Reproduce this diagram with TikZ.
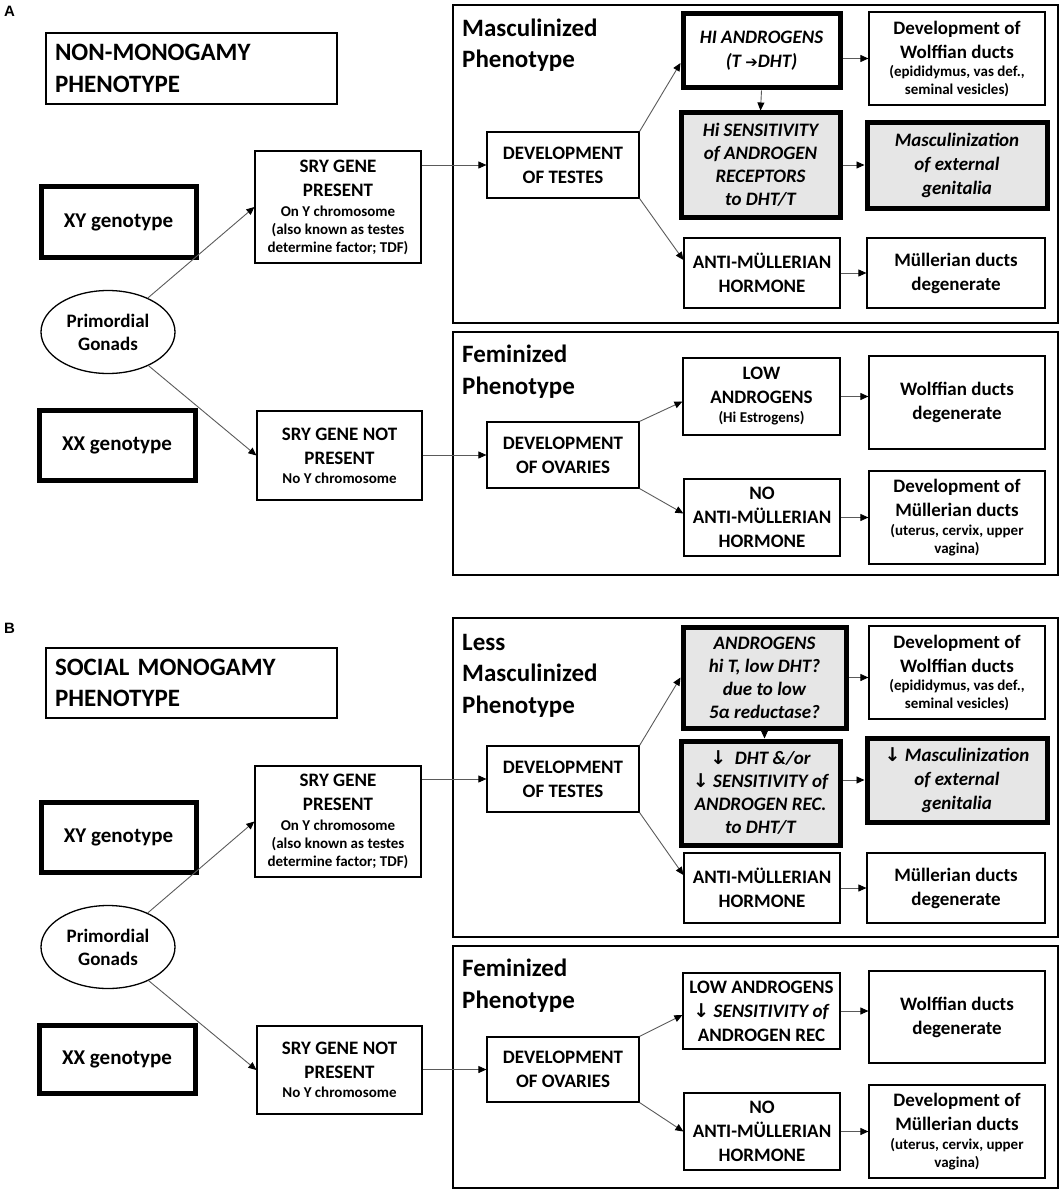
\documentclass[tikz,border=0pt]{standalone}
\usepackage{fontspec}
\setmainfont{Carlito}
\newfontfamily\symf{DejaVu Sans}
\newfontfamily\labf{Liberation Sans}
\usetikzlibrary{arrows.meta,shapes.geometric,calc}
\definecolor{boxgray}{HTML}{E6E6E6}
\definecolor{linegray}{HTML}{5A5A5A}
\newcommand\mainsz{\fontsize{19}{24}\selectfont}
\newcommand\smsz{\fontsize{15}{18}\selectfont}
\newcommand\hdrsz{\fontsize{25}{31.5}\selectfont}
\newcommand\dn{{\symf\upshape ↓}}
\newcommand\BX[7]{\node[#2,minimum width={#5pt-#3pt},minimum height={#6pt-#4pt}] (#1) at ({(#3+#5)/2},{(#4+#6)/2}) {#7};}
\tikzset{
 bx/.style={draw,line width=1.2pt,inner sep=0pt,align=center,font=\bfseries\mainsz},
 thk/.style={bx,line width=5pt},
 gbx/.style={thk,fill=boxgray},
 itx/.style={font=\bfseries\itshape\mainsz},
 panel/.style={draw,line width=2pt,inner sep=0pt},
 ttl/.style={anchor=base west,align=left,inner sep=0pt,font=\bfseries\hdrsz},
 hdr/.style={draw,line width=1.2pt,align=left,text width=273pt,inner xsep=9pt,inner ysep=0pt,font=\bfseries\hdrsz},
 ell/.style={draw,ellipse,line width=1.3pt,minimum width=134pt,minimum height=83pt,inner sep=0pt,align=center,font=\bfseries\mainsz},
 arr/.style={draw=linegray,line width=0.9pt,-{Triangle[length=8pt,width=7pt,color=black]}},
 plab/.style={anchor=base west,inner sep=0pt,font=\labf\bfseries\fontsize{15}{18}\selectfont}
}
\begin{document}
\begin{tikzpicture}[x=1pt,y=-1pt]
\useasboundingbox (0,0) rectangle (1063,1193);
% ================= PANEL A =================
\node[plab] (labA) at (4,17) {A};
\BX{hdrA}{hdr}{46}{33}{337}{104}{NON-MONOGAMY\\PHENOTYPE}
\BX{xyA}{thk}{41}{187}{196}{257}{\fontsize{21}{24}\selectfont XY genotype}
\BX{sryA}{bx}{255}{151}{421}{263}{SRY GENE\\PRESENT\\[-4pt]{\smsz On Y chromosome}\\[-6pt]{\smsz (also known as testes}\\[-6pt]{\smsz determine factor; TDF)}}
\node[ell] (pgA) at (108,332) {Primordial\\[-1pt]Gonads};
\BX{xxA}{thk}{39}{410}{195}{480}{\fontsize{21}{24}\selectfont XX genotype}
\BX{srynA}{bx}{257}{411}{422}{500}{SRY GENE NOT\\PRESENT\\[-5pt]{\smsz No Y chromosome}}
\BX{pmA}{panel}{453}{5}{1058}{323}{}
\node[ttl] (tmA) at (462,68) {Masculinized\\Phenotype};
\BX{devtA}{bx}{487}{132}{639}{198}{DEVELOPMENT\\OF TESTES}
\BX{hiA}{thk,itx}{683}{14}{840}{88}{HI ANDROGENS\\(T {\symf\bfseries\upshape\fontsize{15}{15}\selectfont ➔}DHT)}
\BX{wolfA}{bx}{869}{12}{1045}{105}{Development of\\Wolffian ducts\\[-6pt]{\smsz (epididymus, vas def.,}\\[-6pt]{\smsz seminal vesicles)}}
\BX{sensA}{gbx,itx}{681}{113}{840}{217}{Hi SENSITIVITY\\[-1pt]of ANDROGEN\\[-1pt]RECEPTORS\\[-1pt]to DHT/T}
\BX{mascA}{gbx,itx}{867}{123}{1047}{208}{Masculinization\\of external\\genitalia}
\BX{amhA}{bx}{684}{238}{840}{308}{ANTI-MÜLLERIAN\\HORMONE}
\BX{mdegA}{bx}{867}{238}{1045}{308}{Müllerian ducts\\degenerate}
\BX{pfA}{panel}{453}{332}{1058}{575}{}
\node[ttl] (tfA) at (462,394) {Feminized\\Phenotype};
\BX{devoA}{bx}{487}{422}{639}{488}{DEVELOPMENT\\OF OVARIES}
\BX{lowA}{bx}{683}{358}{840}{435}{LOW\\ANDROGENS\\[-5pt]{\smsz (Hi Estrogens)}}
\BX{wdegA}{bx}{869}{356}{1045}{449}{Wolffian ducts\\degenerate}
\BX{noamhA}{bx}{684}{479}{840}{556}{NO\\ANTI-MÜLLERIAN\\HORMONE}
\BX{mdevA}{bx}{869}{471}{1045}{564}{Development of\\Müllerian ducts\\[-5pt]{\smsz (uterus, cervix, upper}\\[-6pt]{\smsz vagina)}}
% arrows A
\draw[arr] (pgA) -- (sryA.west);
\draw[arr] (pgA) -- (srynA.west);
\draw[arr] (sryA.east |- devtA.west) -- (devtA.west);
\draw[arr] (srynA.east |- devoA.west) -- (devoA.west);
\draw[arr] (devtA.north east) -- ($(hiA.west)+(0,12)$);
\draw[arr] (devtA.south east) -- ($(amhA.west)+(0,-13)$);
\draw[arr] (hiA.east |- wolfA.west) -- (wolfA.west);
\draw[arr] (hiA.south) -- (sensA.north);
\draw[arr] (sensA.east) -- (sensA.east -| mascA.west);
\draw[arr] (amhA.east) -- (amhA.east -| mdegA.west);
\draw[arr] (devoA.north east) -- ($(lowA.west)+(0,5)$);
\draw[arr] (devoA.south east) -- ($(noamhA.west)+(0,-4)$);
\draw[arr] (lowA.east) -- (lowA.east -| wdegA.west);
\draw[arr] (noamhA.east) -- (noamhA.east -| mdevA.west);
% ================= PANEL B =================
\node[plab] (labB) at (4,633) {B};
\BX{hdrB}{hdr}{46}{648}{337}{718}{SOCIAL MONOGAMY\\PHENOTYPE}
\BX{xyB}{thk}{41}{802}{196}{872}{\fontsize{21}{24}\selectfont XY genotype}
\BX{sryB}{bx}{255}{766}{421}{877}{SRY GENE\\PRESENT\\[-4pt]{\smsz On Y chromosome}\\[-6pt]{\smsz (also known as testes}\\[-6pt]{\smsz determine factor; TDF)}}
\node[ell] (pgB) at (108,947) {Primordial\\[-1pt]Gonads};
\BX{xxB}{thk}{39}{1025}{195}{1093}{\fontsize{21}{24}\selectfont XX genotype}
\BX{srynB}{bx}{257}{1026}{422}{1114}{SRY GENE NOT\\PRESENT\\[-5pt]{\smsz No Y chromosome}}
\BX{pmB}{panel}{453}{618}{1058}{937}{}
\node[ttl] (tmB) at (462,713) {Less\\Masculinized\\Phenotype};
\BX{devtB}{bx}{487}{746}{639}{812}{DEVELOPMENT\\OF TESTES}
\BX{andB}{gbx,itx}{683}{627}{846}{728}{ANDROGENS\\[-1pt]hi T, low DHT?\\[-1pt]due to low\\[-1pt]5α reductase?}
\BX{wolfB}{bx}{869}{626}{1045}{719}{Development of\\Wolffian ducts\\[-6pt]{\smsz (epididymus, vas def.,}\\[-6pt]{\smsz seminal vesicles)}}
\BX{dhtB}{gbx,itx}{681}{741}{840}{845}{\dn\ \ DHT \&/or\\[-1pt]\dn\ SENSITIVITY of\\[-1pt]ANDROGEN REC.\\[-1pt]to DHT/T}
\BX{mascB}{gbx,itx}{867}{738}{1047}{822}{\dn\ Masculinization\\of external\\genitalia}
\BX{amhB}{bx}{684}{853}{840}{923}{ANTI-MÜLLERIAN\\HORMONE}
\BX{mdegB}{bx}{867}{853}{1045}{923}{Müllerian ducts\\degenerate}
\BX{pfB}{panel}{453}{946}{1058}{1188}{}
\node[ttl] (tfB) at (462,1008) {Feminized\\Phenotype};
\BX{devoB}{bx}{487}{1037}{639}{1102}{DEVELOPMENT\\OF OVARIES}
\BX{lowB}{bx}{683}{973}{840}{1049}{LOW ANDROGENS\\\dn\ \textit{SENSITIVITY of}\\ANDROGEN REC}
\BX{wdegB}{bx}{869}{971}{1045}{1063}{Wolffian ducts\\degenerate}
\BX{noamhB}{bx}{684}{1093}{840}{1170}{NO\\ANTI-MÜLLERIAN\\HORMONE}
\BX{mdevB}{bx}{869}{1085}{1045}{1178}{Development of\\Müllerian ducts\\[-5pt]{\smsz (uterus, cervix, upper}\\[-6pt]{\smsz vagina)}}
% arrows B
\draw[arr] (pgB) -- (sryB.west);
\draw[arr] (pgB) -- (srynB.west);
\draw[arr] (sryB.east |- devtB.west) -- (devtB.west);
\draw[arr] (srynB.east |- devoB.west) -- (devoB.west);
\draw[arr] (devtB.north east) -- (andB.west);
\draw[arr] (devtB.south east) -- ($(amhB.west)+(0,-13)$);
\draw[arr] (andB.east) -- (andB.east -| wolfB.west);
\draw[arr] (andB.south) -- (andB.south |- dhtB.north);
\draw[arr] (dhtB.east |- mascB.west) -- (mascB.west);
\draw[arr] (amhB.east) -- (amhB.east -| mdegB.west);
\draw[arr] (devoB.north east) -- ($(lowB.west)+(0,4)$);
\draw[arr] (devoB.south east) -- (noamhB.west);
\draw[arr] (lowB.east) -- (lowB.east -| wdegB.west);
\draw[arr] (noamhB.east) -- (noamhB.east -| mdevB.west);
\end{tikzpicture}
\end{document}
